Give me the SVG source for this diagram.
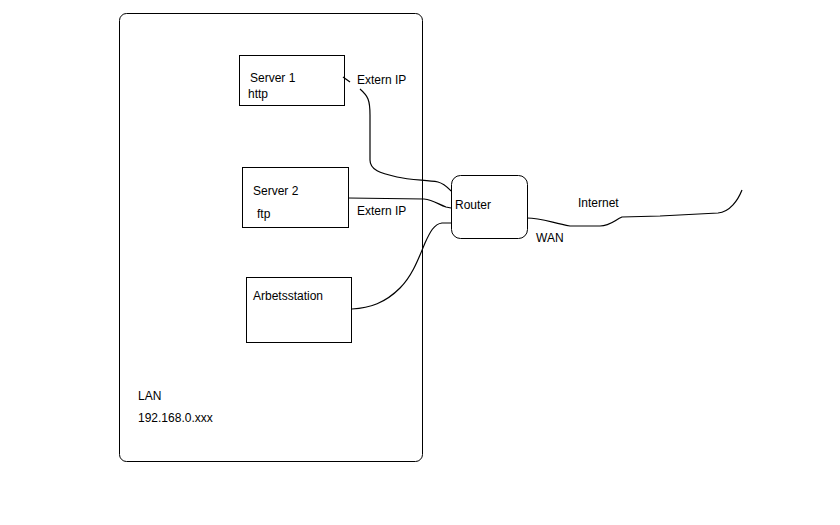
<svg xmlns="http://www.w3.org/2000/svg" width="840" height="525" viewBox="0 0 840 525">
<style>
.box{fill:none;stroke:#000;stroke-width:1}
.ln{fill:none;stroke:#000;stroke-width:1.2}
text{font-family:"Liberation Sans",Arial,sans-serif;font-size:12px;fill:#000}
</style>
<rect width="840" height="525" fill="#fff"/>
<g id="lan">
<rect class="box" x="119.5" y="13.5" width="303" height="448" rx="7"/>
<text x="138" y="400">LAN</text>
<text x="138" y="422">192.168.0.xxx</text>
</g>
<g id="server1">
<rect class="box" x="239.5" y="55.5" width="105" height="50"/>
<text x="250" y="82">Server 1</text>
<text x="248" y="98">http</text>
</g>
<g id="server2">
<rect class="box" x="242.5" y="167.5" width="106" height="60"/>
<text x="253" y="195">Server 2</text>
<text x="257" y="218">ftp</text>
</g>
<g id="arbetsstation">
<rect class="box" x="246.5" y="277.5" width="105" height="65"/>
<text x="253" y="300">Arbetsstation</text>
</g>
<g id="router">
<rect class="box" x="451.5" y="175.5" width="76" height="63" rx="9"/>
<text x="455" y="209">Router</text>
</g>
<g id="connectors">
<path class="ln" d="M343,77 L350,82"/>
<path class="ln" d="M360,89 C368,96 370,100 370,115 L370,160 C370,170 380,173 397,177 C410,180 425,180 438,182 C445,184 448,188 451,191"/>
<path class="ln" d="M348,198 L424,199 C433,200 438,204 446,207 L451,208"/>
<path class="ln" d="M352,309 C370,308 385,303 400,288 C412,276 418,260 425,243 C430,232 434,224 442,223 L451,223"/>
<path class="ln" d="M527,218 C540,218 550,222 570,226 L600,226 C610,226 615,220 622,217 L660,216 L718,213 C730,212 738,200 742,190"/>
<text x="357" y="84">Extern IP</text>
<text x="357" y="215">Extern IP</text>
<text x="578" y="207">Internet</text>
<text x="536" y="242">WAN</text>
</g>
</svg>
